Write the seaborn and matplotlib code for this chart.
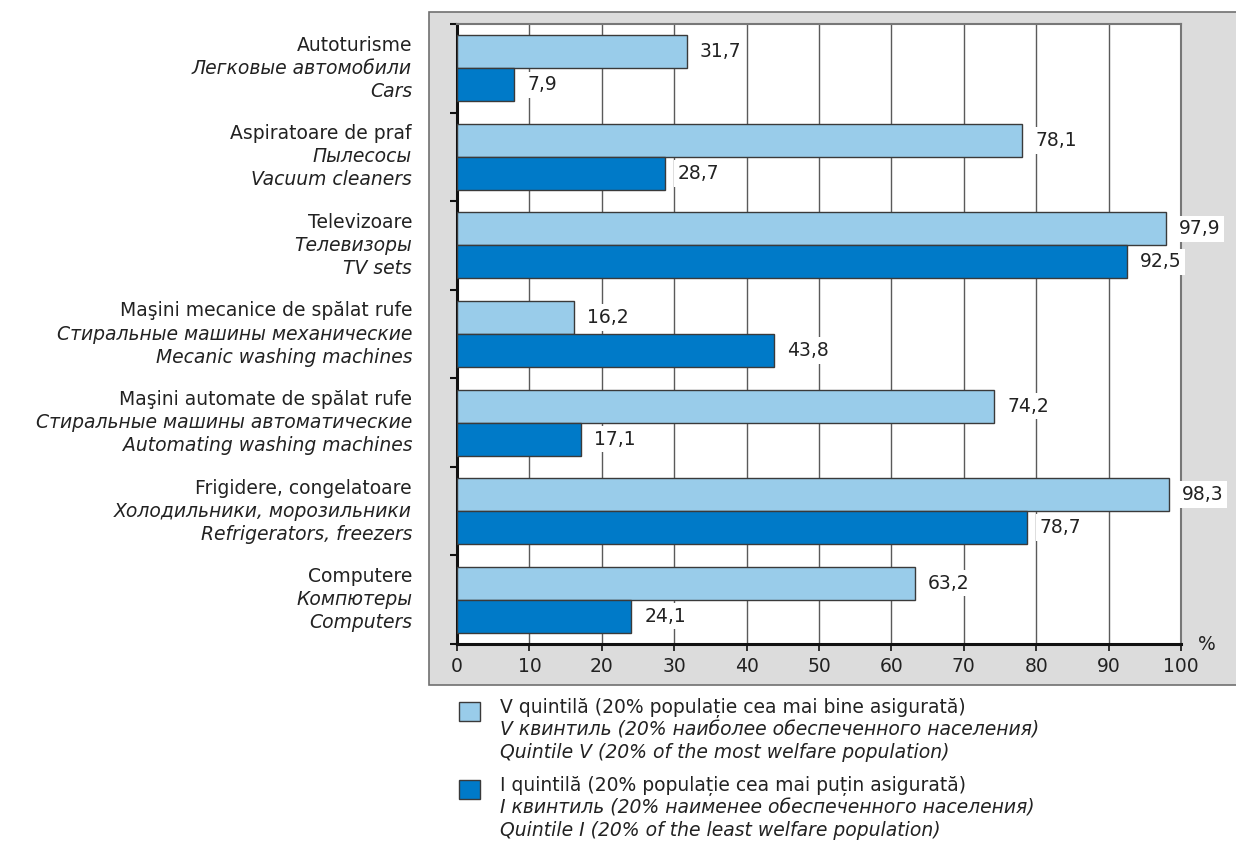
import matplotlib
matplotlib.use("Agg")
import matplotlib.pyplot as plt
from matplotlib.patches import Rectangle
import pandas as pd
import seaborn as sns

plt.rcParams['font.family'] = ['DejaVu Sans']

# data
items_ro = ["Autoturisme", "Aspiratoare de praf", "Televizoare",
            "Maşini mecanice de spălat rufe", "Maşini automate de spălat rufe",
            "Frigidere, congelatoare", "Computere"]
items_ru = ["Легковые автомобили", "Пылесосы", "Телевизоры",
            "Стиральные машины механические", "Стиральные машины автоматические",
            "Холодильники, морозильники", "Компютеры"]
items_en = ["Cars", "Vacuum cleaners", "TV sets", "Mecanic washing machines",
            "Automating washing machines", "Refrigerators, freezers", "Computers"]
quint_v = [31.7, 78.1, 97.9, 16.2, 74.2, 98.3, 63.2]
quint_i = [7.9, 28.7, 92.5, 43.8, 17.1, 78.7, 24.1]
groups = ["V", "I"]
legend_lines = [
    ["V quintilă (20% populație cea mai bine asigurată)",
     "V квинтиль (20% наиболее обеспеченного населения)",
     "Quintile V (20% of the most welfare population)"],
    ["I quintilă (20% populație cea mai puțin asigurată)",
     "I квинтиль (20% наименее обеспеченного населения)",
     "Quintile I (20% of the least welfare population)"],
]
colors = ["#99CCEA", "#007AC8"]
xticks = list(range(0, 101, 10))

df = pd.DataFrame({
    "item": items_ro * 2,
    "group": [groups[0]] * len(items_ro) + [groups[1]] * len(items_ro),
    "value": quint_v + quint_i,
})

fs = 13.5
fig = plt.figure(figsize=(12.36, 8.41), dpi=100)
# grey panel behind the chart
fig.patches.append(Rectangle((429 / 1236, 1 - 685 / 841), 1.0, (685 - 12) / 841,
                             transform=fig.transFigure, facecolor="#DCDCDC",
                             edgecolor="#707070", lw=1.2, zorder=-1))
ax = fig.add_axes([457 / 1236, 1 - 644 / 841, 724 / 1236, 620 / 841])
ax.set_zorder(2)
ax.set_facecolor("white")

sns.barplot(data=df, y="item", x="value", hue="group", order=items_ro,
            hue_order=groups, palette=colors, orient="h", width=0.744,
            edgecolor="#3a3a3a", linewidth=1, saturation=1, ax=ax, legend=False,
            zorder=3)

ax.set_xlim(0, 100)
ax.set_ylim(len(items_ro) - 0.5, -0.5)
ax.set_xticks(xticks)
ax.set_xticklabels([str(t) for t in xticks], fontsize=fs, color="#222222")
ax.set_xlabel("")
ax.set_ylabel("")
ax.grid(axis="x", color="#5a5a5a", lw=1, zorder=1)
ax.set_axisbelow(True)
ax.tick_params(axis="x", length=5, width=1.2, color="#111111", pad=4)
ax.set_yticks([i - 0.5 for i in range(len(items_ro) + 1)])
ax.set_yticklabels([])
ax.tick_params(axis="y", length=5, width=1.5, color="#111111")
for s in ["left", "bottom"]:
    ax.spines[s].set_color("#111111")
    ax.spines[s].set_linewidth(2.2)
for s in ["top", "right"]:
    ax.spines[s].set_color("#777777")
    ax.spines[s].set_linewidth(1.5)

# value labels
off = 0.744 / 4
for i in range(len(items_ro)):
    for val, dy in [(quint_v[i], -off), (quint_i[i], off)]:
        ax.annotate(f"{val:.1f}".replace(".", ","), xy=(val, i + dy),
                    xytext=(13, 0), textcoords="offset pixels", va="center",
                    ha="left", fontsize=fs, color="#222222", zorder=5,
                    annotation_clip=False,
                    bbox=dict(boxstyle="square,pad=0.2", fc="white", ec="none"))

# category labels (three languages)
ytr = ax.get_yaxis_transform()
for i in range(len(items_ro)):
    for txt, dy, style in [(items_ro[i], 23, "normal"), (items_ru[i], 0, "italic"),
                           (items_en[i], -23, "italic")]:
        ax.annotate(txt, xy=(0, i), xycoords=ytr, xytext=(-45, dy),
                    textcoords="offset pixels", ha="right", va="center",
                    fontsize=fs, style=style, color="#222222",
                    annotation_clip=False)

ax.annotate("%", xy=(1, 0), xycoords="axes fraction", xytext=(26, 0),
            textcoords="offset pixels", ha="center", va="center",
            fontsize=fs, color="#222222", annotation_clip=False)

# legend
for k, lines in enumerate(legend_lines):
    top = 702 + k * 78
    fig.patches.append(Rectangle((459 / 1236, 1 - (top + 19) / 841), 21 / 1236, 19 / 841,
                                 transform=fig.transFigure, facecolor=colors[k],
                                 edgecolor="#3a3a3a", lw=1))
    for j, line in enumerate(lines):
        fig.text(500 / 1236, 1 - (top + 6 + j * 22) / 841, line, ha="left",
                 va="center", fontsize=fs, color="#222222",
                 style="normal" if j == 0 else "italic")

fig.savefig("out.png", dpi=100)
